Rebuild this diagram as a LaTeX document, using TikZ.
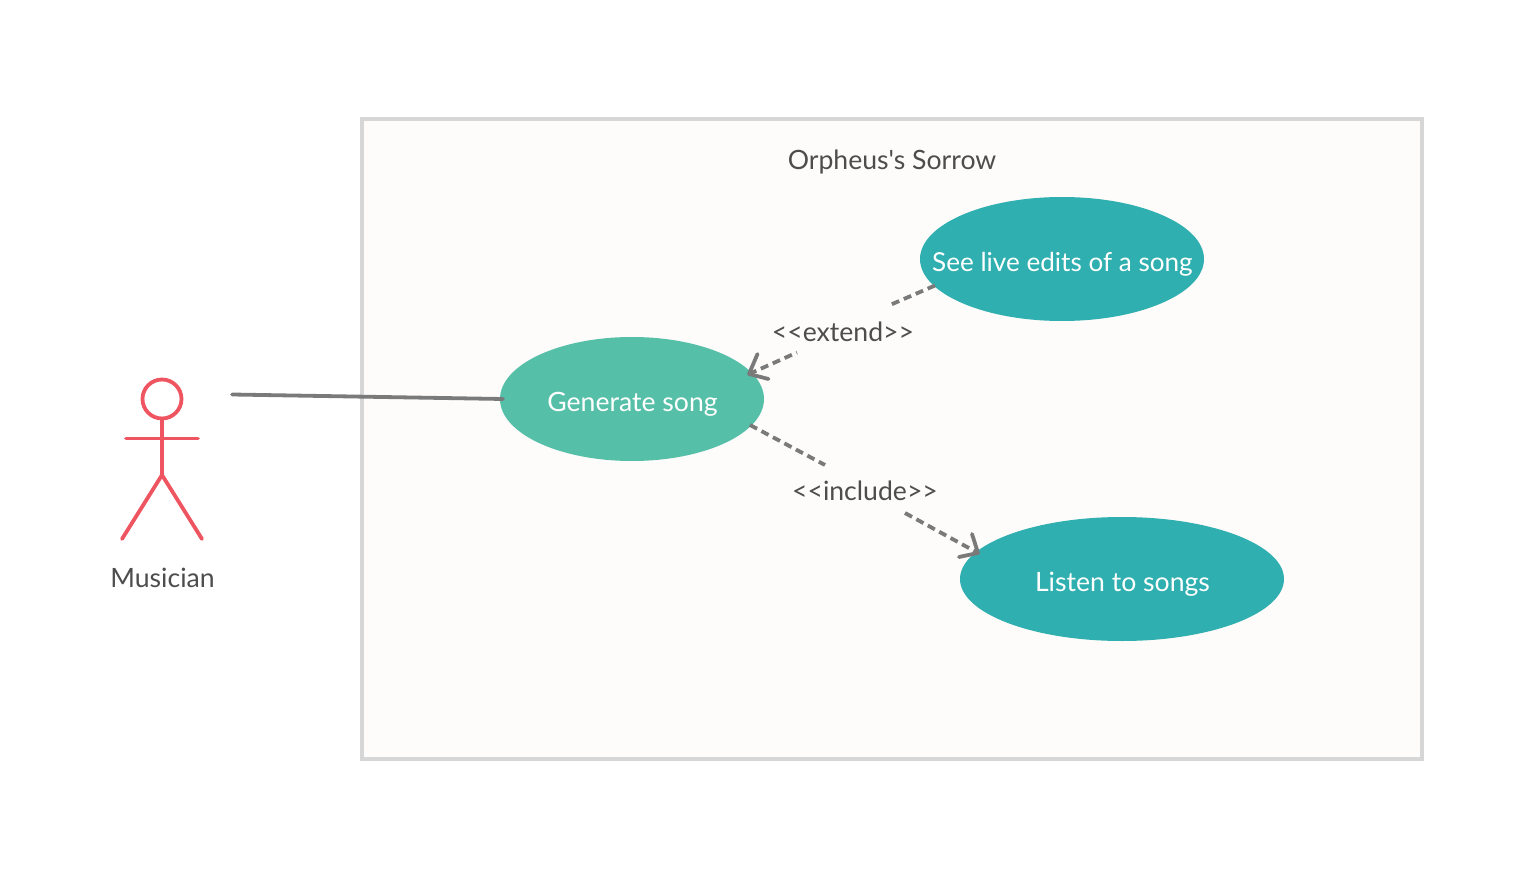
\documentclass[tikz,border=0pt]{standalone}
\usepackage{fontspec}
\setmainfont[Ligatures=TeXOff]{Lato}
\usetikzlibrary{shapes.geometric,arrows.meta}
\definecolor{teal1}{HTML}{2FAFAF}
\definecolor{teal2}{HTML}{56BFA8}
\definecolor{actor}{HTML}{EF5560}
\definecolor{linec}{HTML}{7A7A7A}
\definecolor{txt}{HTML}{4D4D4D}
\definecolor{bord}{HTML}{D6D6D6}
\definecolor{sysbg}{HTML}{FDFCFB}
\tikzset{x=1pt,y=-1pt,
 usecase/.style={ellipse,draw=none,text=white,inner sep=0pt,font=\fontsize{26.6}{30}\selectfont},
 lbl/.style={text=txt,inner sep=0pt,font=\fontsize{26.6}{30}\selectfont},
 conn/.style={draw=linec,line width=3.8pt,line cap=round},
 dep/.style={draw=linec,line width=3.8pt,dash pattern=on 8pt off 5pt},
 lim/.style={draw=linec,line width=3.8pt,line cap=round,line join=round},
 stick/.style={draw=actor,line width=3.8pt,line cap=round}}
\begin{document}
\begin{tikzpicture}
\useasboundingbox (0,0) rectangle (1524,896);
\node[draw=bord,fill=sysbg,line width=4pt,minimum width=1060pt,minimum height=640pt,inner sep=0pt] (sys) at (892,439) {};
\node[lbl] (title) at (892,162) {Orpheus's Sorrow};
\node[usecase,fill=teal2,minimum width=264pt,minimum height=124pt] (gen) at (632,399) {};
\node[usecase,fill=teal1,minimum width=284pt,minimum height=124pt] (live) at (1062,259) {};
\node[usecase,fill=teal1,minimum width=324pt,minimum height=124pt] (listen) at (1122,579) {};
\node[usecase] (gent) at (632.5,404) {Generate song};
\node[usecase,font=\fontsize{26.1}{30}\selectfont] (livet) at (1062.5,264) {See live edits of a song};
\node[usecase] (listent) at (1122.5,584) {Listen to songs};
% actor
\node[draw=actor,line width=3.8pt,circle,minimum size=39pt,inner sep=0pt] (head) at (162,399) {};
\coordinate (hip) at (162,475);
\coordinate (armL) at (126,438.5);
\coordinate (armR) at (198,438.5);
\coordinate (footL) at (122,539);
\coordinate (footR) at (202,539);
\draw[stick] (head.south) -- (hip);
\draw[stick] (armL) -- (armR);
\draw[stick,line join=round] (footL) -- (hip) -- (footR);
\node[lbl] (mus) at (162.5,577.5) {Musician};
\coordinate (actorEnd) at (232,394.5);
\coordinate (genIn) at (503,399);
\draw[conn] (actorEnd) -- (genIn);
% extend
\coordinate (extA) at (935,285.5);
\coordinate (extB) at (890,305);
\coordinate (extC) at (797,352.5);
\coordinate (extD) at (749,374);
\draw[dep] (extA) -- (extB);
\draw[dep] (extD) -- (extC);
\coordinate (extH1) at (757.5,354);
\coordinate (extH2) at (768.5,379);
\draw[lim] (extH1) -- (extD) -- (extH2);
\node[lbl] (extl) at (843,331.5) {<{}<extend>{}>};
% include
\coordinate (incA) at (750,425);
\coordinate (incB) at (825,465);
\coordinate (incC) at (905,513);
\coordinate (incD) at (978,553);
\draw[dep] (incA) -- (incB);
\draw[dep] (incC) -- (incD);
\coordinate (incH1) at (972,534);
\coordinate (incH2) at (959,557);
\draw[lim] (incH1) -- (incD) -- (incH2);
\node[lbl] (incl) at (865,491) {<{}<include>{}>};
\end{tikzpicture}
\end{document}
